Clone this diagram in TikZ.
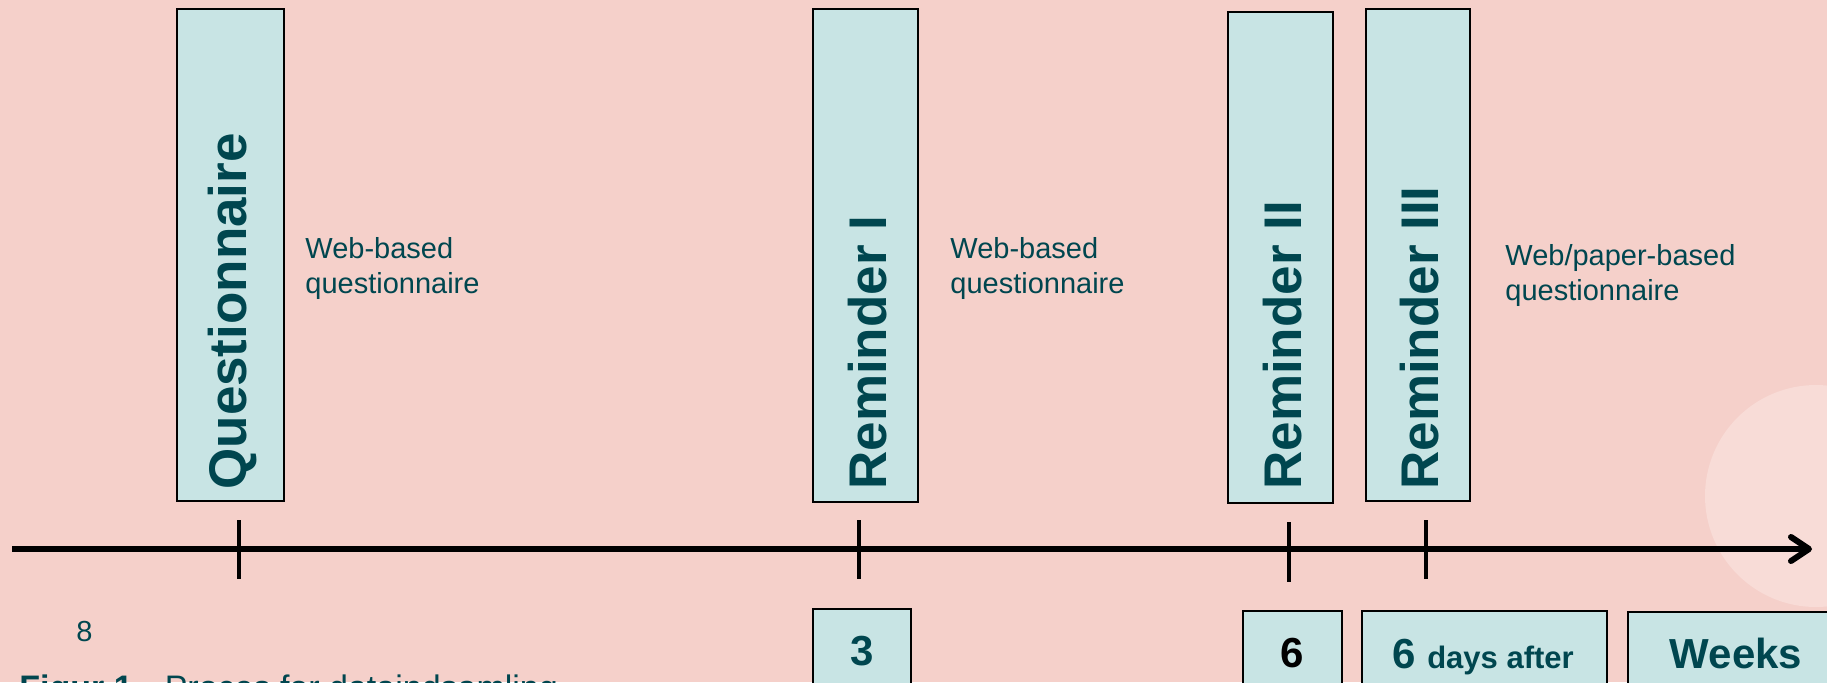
\documentclass[tikz,border=0pt]{standalone}
\usepackage{fontspec}
\setmainfont{Liberation Sans}
\usetikzlibrary{arrows.meta}
\definecolor{bgpink}{HTML}{F5D0CA}
\definecolor{circpink}{HTML}{F8DCD7}
\definecolor{boxteal}{HTML}{C8E4E4}
\definecolor{txteal}{HTML}{00464F}
\tikzset{
  tallbox/.style={draw=black, line width=0.75pt, fill=boxteal, inner sep=0pt},
  vtext/.style={rotate=90, anchor=west, inner sep=0pt, text=txteal, font=\bfseries\fontsize{26.5}{30}\selectfont},
  sidelabel/.style={anchor=north west, inner sep=0pt, align=left, text=txteal, font=\fontsize{14.5}{17.5}\selectfont},
  daybox/.style={draw=black, line width=0.75pt, fill=boxteal, inner sep=0pt},
  daytext/.style={anchor=base, inner sep=0pt, text=txteal, font=\bfseries\fontsize{21}{24}\selectfont},
  axisline/.style={line width=3pt, draw=black, -{Straight Barb[length=9pt,width=12pt,round]}},
  tickline/.style={line width=2pt, draw=black},
}
\begin{document}
\begin{tikzpicture}[x=0.5pt,y=-0.5pt]
\useasboundingbox (0,0) rectangle (1827,682);
\clip (0,0) rectangle (1827,682);
\fill[bgpink] (0,0) rectangle (1827,682);
\fill[circpink] (1816,496) circle [radius=111];

% tall boxes
\node[tallbox, minimum width=53.5pt, minimum height=246pt] (q) at (230.5,255) {};
\node[tallbox, minimum width=52.5pt, minimum height=246.5pt] (r1) at (865.5,255.5) {};
\node[tallbox, minimum width=52.5pt, minimum height=245.5pt] (r2) at (1280.5,257.5) {};
\node[tallbox, minimum width=52pt, minimum height=246pt] (r3) at (1418,255) {};

\node[vtext] (qt) at (233,490) {Questionnaire};
\node[vtext] (r1t) at (868,490) {Reminder I};
\node[vtext] (r2t) at (1283,490) {Reminder II};
\node[vtext] (r3t) at (1420,490) {Reminder III};

% side labels
\node[sidelabel] (l1) at (305,237) {Web-based\\questionnaire};
\node[sidelabel] (l2) at (950,237) {Web-based\\questionnaire};
\node[sidelabel] (l3) at (1505,244) {Web/paper-based\\questionnaire};

% axis
\coordinate (a0) at (12,549);
\coordinate (a1) at (1812,549);
\draw[axisline] (a0) -- (a1);

% ticks
\coordinate (t1a) at (239,520); \coordinate (t1b) at (239,579);
\coordinate (t2a) at (859,520); \coordinate (t2b) at (859,579);
\coordinate (t3a) at (1289,522); \coordinate (t3b) at (1289,582);
\coordinate (t4a) at (1426,520); \coordinate (t4b) at (1426,579);
\draw[tickline] (t1a) -- (t1b);
\draw[tickline] (t2a) -- (t2b);
\draw[tickline] (t3a) -- (t3b);
\draw[tickline] (t4a) -- (t4b);

% bottom boxes
\node[daybox, minimum width=49pt, minimum height=55.5pt] (b3) at (862,664.5) {};
\node[daybox, minimum width=49.5pt, minimum height=54.5pt] (b6) at (1292.5,665.5) {};
\node[daybox, minimum width=122.5pt, minimum height=54.5pt] (b6d) at (1484.5,665.5) {};
\node[daybox, minimum width=111pt, minimum height=54pt] (bw) at (1739,666) {};

\node[daytext] (b3t) at (862,665) {3};
\node[daytext, text=black] (b6t) at (1292.5,667) {6};
\node[daytext] (b6dt) at (1483,668) {6 {\fontsize{15.5}{18}\selectfont days after}};
\node[daytext] (bwt) at (1736,668) {Weeks};

% page number and caption
\node[anchor=base west, inner sep=0pt, text=txteal, font=\fontsize{14.5}{17}\selectfont] (pg) at (76,641) {8};
\node[anchor=base west, inner sep=0pt, text=txteal, font=\fontsize{17}{20}\selectfont] (cap) at (19,699) {\textbf{Figur 1.}\hspace{5pt} Proces for dataindsamling};
\end{tikzpicture}
\end{document}
